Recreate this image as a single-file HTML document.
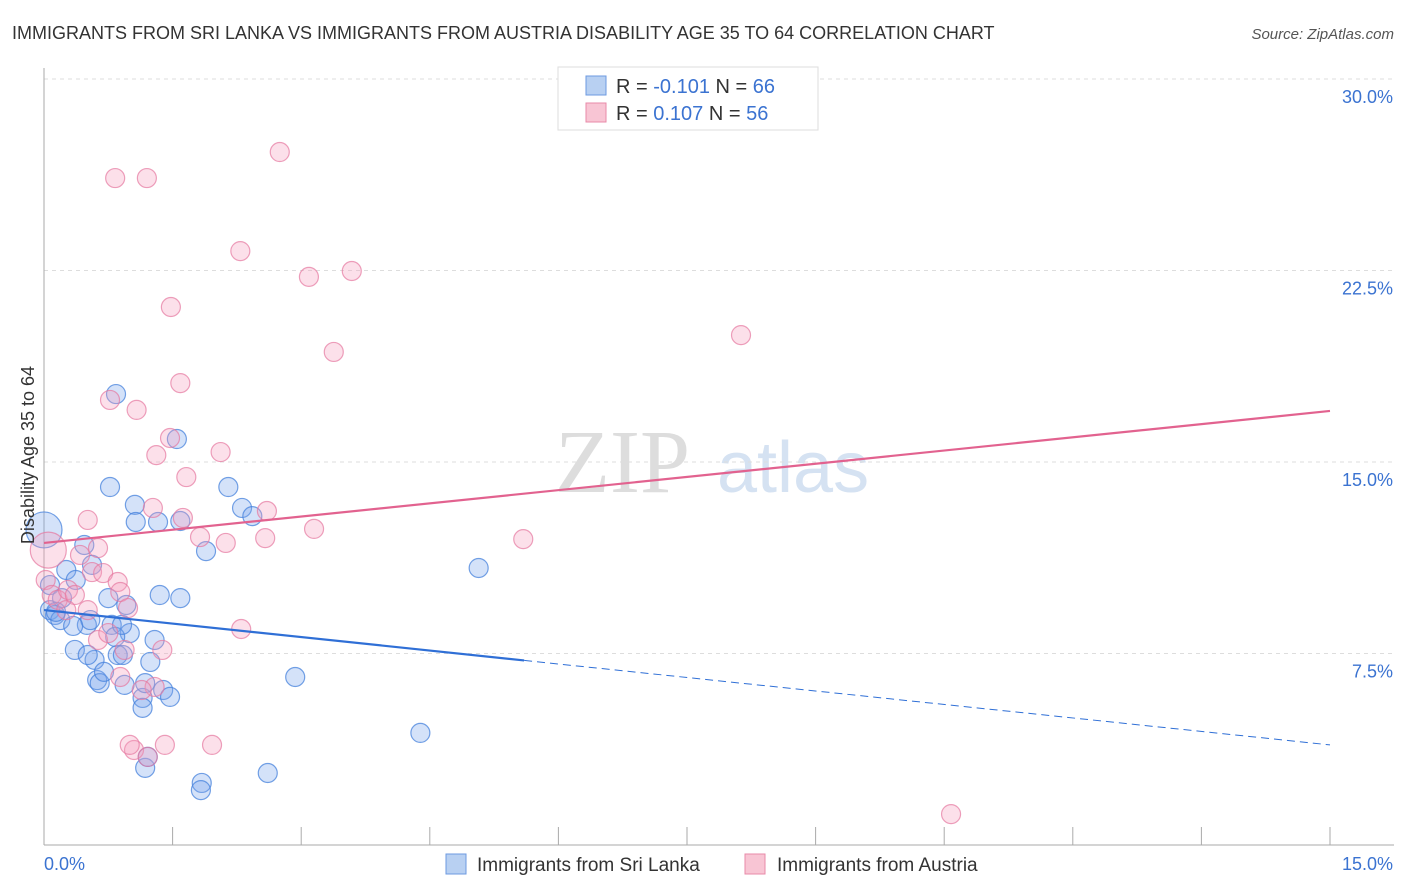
<!DOCTYPE html>
<html><head><meta charset="utf-8">
<style>
body{margin:0;background:#fff;font-family:"Liberation Sans",sans-serif;}
svg{display:block}
</style></head>
<body>
<svg id="chart" width="1406" height="892" xmlns="http://www.w3.org/2000/svg">
<text x="12" y="39" font-size="18" fill="#333">IMMIGRANTS FROM SRI LANKA VS IMMIGRANTS FROM AUSTRIA DISABILITY AGE 35 TO 64 CORRELATION CHART</text>
<text x="1394" y="39" font-size="15" fill="#555" font-style="italic" text-anchor="end">Source: ZipAtlas.com</text>
<text x="555" y="492" font-size="90" fill="#ddd" font-family="Liberation Serif,serif">ZIP</text>
<text x="717" y="492" font-size="72" fill="#d5e2f2">atlas</text>
<g id="grid"></g>
<g id="axes"></g>
<g id="points"></g>
<g id="trends"></g>
<text transform="translate(34,455) rotate(-90)" font-size="18" fill="#333" text-anchor="middle">Disability Age 35 to 64</text>
<g>
<rect x="558" y="67" width="260" height="63" fill="#fff" stroke="#ddd"/>
<rect x="586" y="76" width="20" height="19" fill="#b8d0f2" stroke="#6d9ae0"/>
<rect x="586" y="103" width="20" height="19" fill="#f8c5d4" stroke="#e88aa8"/>
<text x="616" y="93" font-size="20" fill="#333">R = <tspan fill="#3b73d1">-0.101</tspan>   N = <tspan fill="#3b73d1">66</tspan></text>
<text x="616" y="120" font-size="20" fill="#333">R =  <tspan fill="#3b73d1">0.107</tspan>   N = <tspan fill="#3b73d1">56</tspan></text>
</g>
<g>
<rect x="446" y="854" width="20" height="20" fill="#b8d0f2" stroke="#6d9ae0"/>
<text x="477" y="871" font-size="19" fill="#333">Immigrants from Sri Lanka</text>
<rect x="745" y="854" width="20" height="20" fill="#f8c5d4" stroke="#e88aa8"/>
<text x="777" y="871" font-size="19" fill="#333">Immigrants from Austria</text>
</g>
</svg>
<script>
const blueX=[0,0.07,0.07,0.13,0.19,0.26,0.36,0.37,0.47,0.50,0.54,0.56,0.59,0.62,0.65,0.70,0.75,0.77,0.79,0.84,0.86,0.92,0.96,1.00,1.06,1.07,1.15,1.18,1.15,1.21,1.24,1.29,1.33,1.35,1.39,1.47,1.55,1.59,1.59,1.84,1.83,1.89,2.15,2.31,2.43,2.61,2.93,4.39,5.07,0.34,0.21,0.14,0.83,0.91,1.18,0.94,0.51];
const blueY=[12.34,10.18,9.20,9.01,8.81,10.77,7.64,10.38,11.75,8.62,8.81,10.97,7.25,6.46,6.34,6.78,9.67,14.02,8.62,17.66,7.44,7.44,9.40,8.30,13.32,12.65,5.76,3.02,5.37,3.45,7.17,8.03,12.65,9.79,6.07,5.80,15.90,9.67,12.69,2.43,2.15,11.51,14.02,13.20,12.88,2.82,6.58,4.39,10.85,8.58,9.67,9.13,8.15,8.62,6.34,6.27,7.44];
const pinkX=[0.05,0.02,0.09,0.16,0.28,0.36,0.42,0.51,0.56,0.63,0.69,0.77,0.83,0.86,0.89,0.94,0.98,1.08,1.20,1.27,1.31,1.38,1.41,1.47,1.48,1.59,1.62,1.66,1.82,1.96,2.06,2.12,2.29,2.30,2.58,2.60,2.75,3.09,3.15,3.38,3.59,5.59,8.13,10.58,1.05,1.21,1.29,0.89,0.63,1.14,0.51,0.75,0.26,1.00];
const pinkY=[11.55,10.38,9.79,9.60,9.99,9.79,11.36,12.73,10.69,11.63,10.65,17.43,26.12,10.30,9.91,7.64,9.28,17.04,26.12,13.20,15.27,7.64,3.92,15.94,21.07,18.09,12.81,14.41,12.06,3.92,15.39,11.83,23.26,8.46,12.02,13.08,27.14,22.25,12.38,19.31,22.48,11.98,19.97,1.21,3.72,3.45,6.19,6.58,8.03,6.07,9.20,8.30,9.20,3.92];
const blueTrend=[9.20,3.92];
const pinkTrend=[11.83,17.00];
const yTicks=[7.5,15,22.5,30];
const yTickLabels=["7.5%","15.0%","22.5%","30.0%"];
const xTicks=[0,1.5,3,4.5,6,7.5,9,10.5,12,13.5,15];

const NS="http://www.w3.org/2000/svg";
const X0=44,X1=1330,Y0=845,Y1=79;
function sx(v){return X0+(v/15)*(X1-X0);}
function sy(v){return Y0-(v/30)*(Y0-Y1);}
function mk(tag,attrs,parent){const e=document.createElementNS(NS,tag);for(const k in attrs)e.setAttribute(k,attrs[k]);parent.appendChild(e);return e;}
const grid=document.getElementById('grid'),axes=document.getElementById('axes'),pts=document.getElementById('points'),tr=document.getElementById('trends');
yTicks.forEach((t,i)=>{
 const l=mk('line',{x1:X0,x2:1394,y1:sy(t),y2:sy(t),stroke:'#ddd','stroke-dasharray':'4,4'},grid);
 
 
 const tx=mk('text',{x:1393,y:sy(t)+24,'font-size':18,fill:'#3b73d1','text-anchor':'end'},axes);
 tx.textContent=yTickLabels[i];
 
 
});
const ax=mk('line',{x1:X0,x2:X0,y1:68,y2:Y0,stroke:'#aaa'},axes);


const bx=mk('line',{x1:X0,x2:1394,y1:Y0,y2:Y0,stroke:'#aaa'},axes);


xTicks.forEach(t=>{
 const l=mk('line',{x1:sx(t),x2:sx(t),y1:827,y2:Y0,stroke:'#aaa'},axes);
 
 
});
const xl0=mk('text',{x:44,y:870,'font-size':18,fill:'#3b73d1'},axes);xl0.textContent='0.0%';


const xl1=mk('text',{x:1393,y:870,'font-size':18,fill:'#3b73d1','text-anchor':'end'},axes);xl1.textContent='15.0%';


function drawPts(xs,ys,fill,stroke,name){
 xs.forEach((x,i)=>{
  const big=(i===0);
  const c=mk('circle',{cx:sx(x),cy:sy(ys[i]),r:big?18:9.5,fill:fill,stroke:stroke,'stroke-width':1.2},pts);
  
  
 });
}
drawPts(blueX,blueY,'rgba(120,165,235,0.32)','rgba(70,130,220,0.75)','point-sri-lanka');
drawPts(pinkX,pinkY,'rgba(245,160,190,0.32)','rgba(230,120,160,0.7)','point-austria');
const bSplit=5.6;
const by=v=>blueTrend[0]+(blueTrend[1]-blueTrend[0])*v/15;
const b1=mk('line',{x1:sx(0),y1:sy(by(0)),x2:sx(bSplit),y2:sy(by(bSplit)),stroke:'#2f6fd6','stroke-width':2.2},tr);


const b2=mk('line',{x1:sx(bSplit),y1:sy(by(bSplit)),x2:sx(15),y2:sy(by(15)),stroke:'#2f6fd6','stroke-width':1,'stroke-dasharray':'8,5'},tr);


const p1=mk('line',{x1:sx(0),y1:sy(pinkTrend[0]),x2:sx(15),y2:sy(pinkTrend[1]),stroke:'#e2628f','stroke-width':2.2},tr);


</script>
</body></html>
